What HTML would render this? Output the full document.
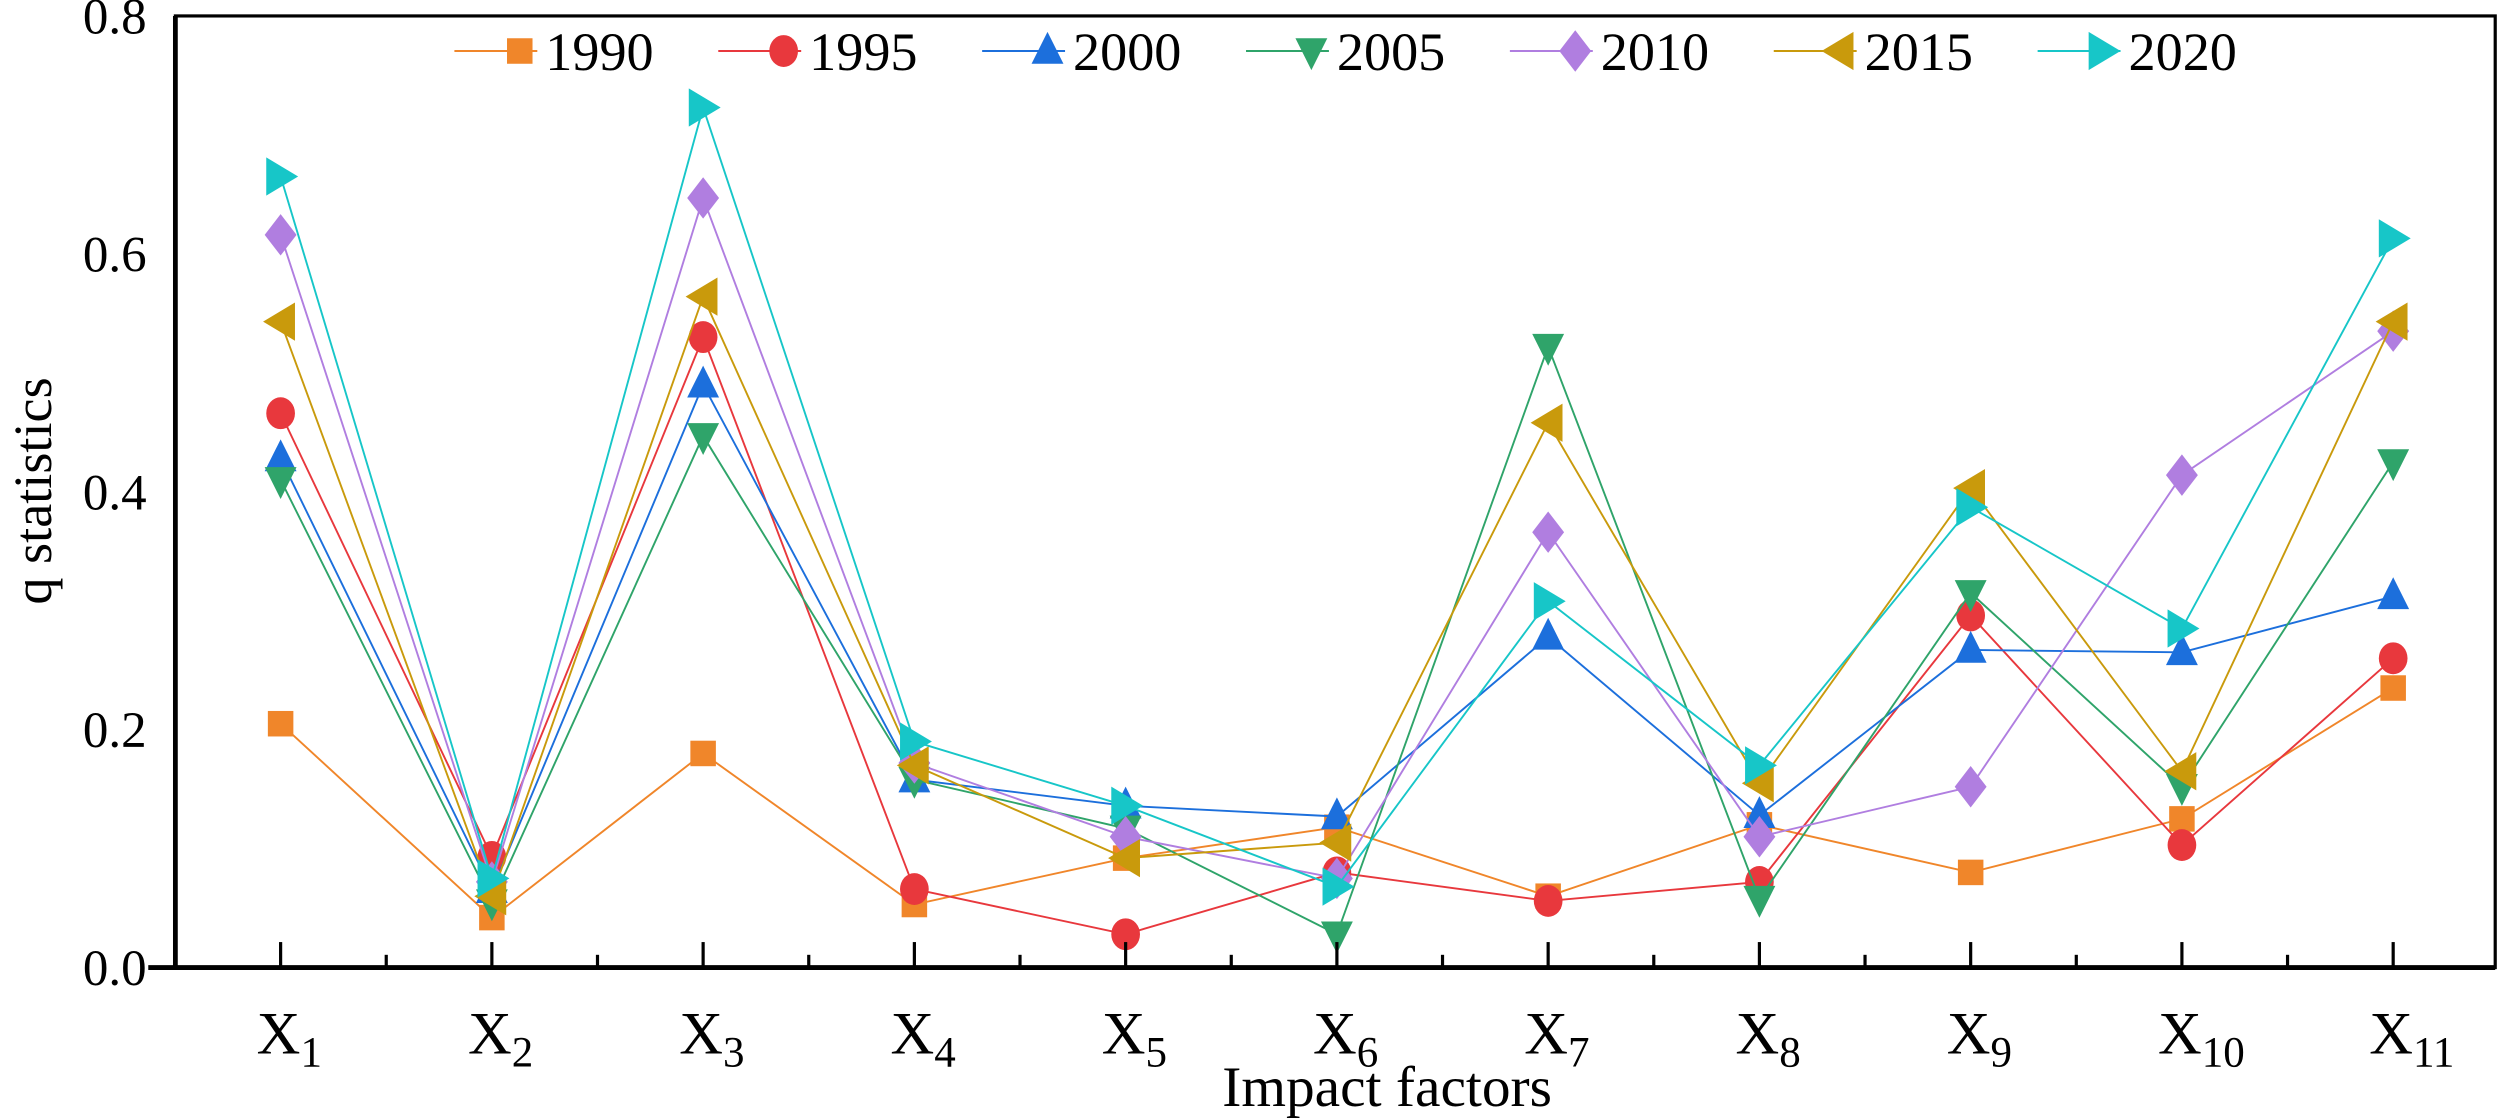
<!DOCTYPE html>
<html><head><meta charset="utf-8"><style>
html,body{margin:0;padding:0;background:#fff;}
svg{display:block;}
text{font-family:"Liberation Serif",serif;fill:#000;}
</style></head><body>
<svg id="chart" width="2500" height="1119" viewBox="0 0 1568 702" preserveAspectRatio="none" xmlns="http://www.w3.org/2000/svg">
<g id="grid"></g>
<g id="series"></g>
<g id="axes"></g>
<g id="legend"></g>
</svg>
<script>
const categories = ["1","2","3","4","5","6","7","8","9","10","11"];
const years = ["1990","1995","2000","2005","2010","2015","2020"];
const s1990 = [0.205,0.042,0.18,0.053,0.092,0.118,0.06,0.12,0.08,0.125,0.235];
const s1995 = [0.466,0.093,0.53,0.066,0.028,0.08,0.056,0.072,0.296,0.103,0.26];
const s2000 = [0.428,0.065,0.49,0.158,0.136,0.127,0.278,0.128,0.267,0.265,0.312];
const s2005 = [0.41,0.055,0.447,0.158,0.117,0.028,0.522,0.058,0.315,0.152,0.425];
const s2010 = [0.616,0.072,0.647,0.172,0.11,0.075,0.366,0.11,0.152,0.414,0.535];
const s2015 = [0.543,0.06,0.564,0.17,0.092,0.105,0.458,0.155,0.403,0.165,0.543];
const s2020 = [0.665,0.075,0.723,0.19,0.136,0.068,0.308,0.17,0.387,0.285,0.613];
const yTicks = ["0.0","0.2","0.4","0.6","0.8"];

const seriesData=[s1990,s1995,s2000,s2005,s2010,s2015,s2020];
const colors=["#f0862a","#e8383d","#1c6fdc","#2fa46a","#b07ee0","#c99a0c","#17c6c8"];
const shapes=["square","circle","up","down","diamond","left","right"];
const NS="http://www.w3.org/2000/svg";
const L=110,R=1565,T=10,B=607,YMAX=0.8;
function xs(i){return 176+i*(1501-176)/(categories.length-1);}
function ys(v){return B-(v/YMAX)*(B-T);}
function mk(tag,attrs,parent){const e=document.createElementNS(NS,tag);for(const k in attrs)e.setAttribute(k,attrs[k]);parent.appendChild(e);return e;}
function marker(shape,x,y,c,parent){
  let e;
  if(shape==="square")e=mk("rect",{x:x-8,y:y-8,width:16,height:16,fill:c},parent);
  else if(shape==="circle")e=mk("ellipse",{cx:x,cy:y,rx:9,ry:10,fill:c},parent);
  else{let p;
    if(shape==="up")p=[[x,y-12],[x+10,y+8],[x-10,y+8]];
    if(shape==="down")p=[[x,y+12],[x+10,y-8],[x-10,y-8]];
    if(shape==="diamond")p=[[x,y-13],[x+10,y],[x,y+13],[x-10,y]];
    if(shape==="left")p=[[x-11,y],[x+9,y-12],[x+9,y+12]];
    if(shape==="right")p=[[x+11,y],[x-9,y-12],[x-9,y+12]];
    e=mk("polygon",{points:p.map(q=>q.join(",")).join(" "),fill:c},parent);}
  return e;
}
const sg=document.getElementById("series");
seriesData.forEach((d,si)=>{
  const g=mk("g",{},sg);
  
  
  const pl=mk("polyline",{points:d.map((v,i)=>xs(i)+","+ys(v)).join(" "),fill:"none",stroke:colors[si],"stroke-width":1.2},g);
  
  
  d.forEach((v,i)=>{const m=marker(shapes[si],xs(i),ys(v),colors[si],g);
    
    });
});
const ax=document.getElementById("axes");
mk("rect",{x:L,y:T,width:R-L,height:B-T,fill:"none",stroke:"#000","stroke-width":2},ax);
const la=mk("line",{x1:L,y1:T,x2:L,y2:B+1,stroke:"#000","stroke-width":3},ax);

const ba=mk("line",{x1:93,y1:B,x2:R,y2:B,stroke:"#000","stroke-width":3},ax);

categories.forEach((c,i)=>{
  mk("line",{x1:xs(i),y1:B,x2:xs(i),y2:B-16,stroke:"#000","stroke-width":2},ax);
  if(i<categories.length-1){const mx=(xs(i)+xs(i+1))/2;mk("line",{x1:mx,y1:B,x2:mx,y2:B-8,stroke:"#000","stroke-width":2},ax);}
  const t=mk("text",{x:xs(i)-15,y:B+54,"font-size":38},ax);
  
  t.appendChild(document.createTextNode("X"));
  const s=mk("tspan",{"font-size":27,dy:8},t);s.textContent=c;
});
yTicks.forEach((lab,i)=>{
  const v=parseFloat(lab);
  const t=mk("text",{x:92,y:ys(v)+11,"font-size":32,"text-anchor":"end"},ax);
  
  t.textContent=lab;
});
const xt=mk("text",{x:870,y:694,"font-size":36,"text-anchor":"middle"},ax);

xt.textContent="Impact factors";
const yt=mk("text",{x:0,y:0,"font-size":34,"text-anchor":"middle",transform:"translate(32,308) rotate(-90)"},ax);

yt.textContent="q statistics";
const lg=document.getElementById("legend");

years.forEach((y,i)=>{
  const x0=285+i*165.5;
  const g=mk("g",{},lg);
  
  mk("line",{x1:x0,y1:32,x2:x0+52,y2:32,stroke:colors[i],"stroke-width":1.2},g);
  marker(shapes[i],x0+41,32,colors[i],g);
  const t=mk("text",{x:x0+57,y:44,"font-size":34},g);t.textContent=y;
  
});
</script>
</body></html>
